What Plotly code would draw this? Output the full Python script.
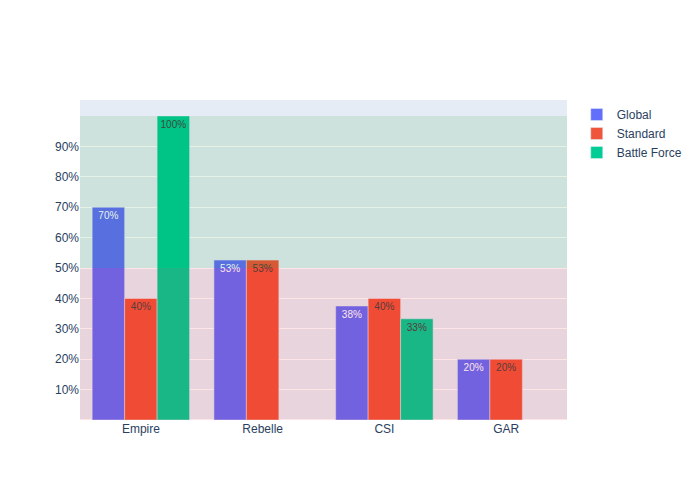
import plotly.graph_objects as go

categories = ["Empire", "Rebelle", "CSI", "GAR"]
global_vals = [0.70, 0.526, 0.375, 0.20]
standard_vals = [0.40, 0.526, 0.40, 0.20]
battle_force_vals = [1.00, None, 0.333, None]
tick_vals = [0.1, 0.2, 0.3, 0.4, 0.5, 0.6, 0.7, 0.8, 0.9]

fig = go.Figure()
for name, vals in [("Global", global_vals), ("Standard", standard_vals), ("Battle Force", battle_force_vals)]:
    fig.add_trace(go.Bar(name=name, x=categories, y=vals, texttemplate="%{y:.0%}",
                         textposition="inside", textangle=0, textfont=dict(size=10)))

fig.add_shape(type="rect", xref="paper", yref="y", x0=0, x1=1, y0=0.5, y1=1,
              fillcolor="green", opacity=0.1, line_width=0)
fig.add_shape(type="rect", xref="paper", yref="y", x0=0, x1=1, y0=0, y1=0.5,
              fillcolor="red", opacity=0.1, line_width=0)

fig.update_layout(width=700, height=500, barmode="group", font=dict(family="Arial"),
                  yaxis=dict(tickvals=tick_vals, tickformat=".0%"))
fig.write_html("out.html", config={"displayModeBar": False},
               post_script="document.body.style.margin='0';")
